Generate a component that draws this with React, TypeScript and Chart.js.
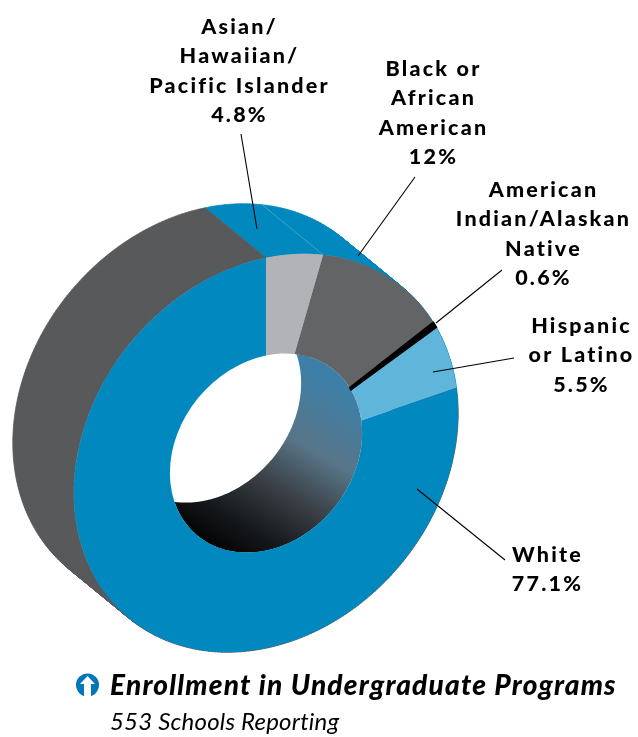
import React, { useEffect, useRef } from "react";
import { Chart, registerables } from "chart.js";

Chart.register(...registerables);

// Enrollment shares, clockwise from twelve o'clock.
const categories = [
  ["Asian/", "Hawaiian/", "Pacific Islander"],
  ["Black or", "African", "American"],
  ["American", "Indian/Alaskan", "Native"],
  ["Hispanic", "or Latino"],
  ["White"],
];
const shares = [4.8, 12, 0.6, 5.5, 77.1];
const faceColors = ["#b1b3b6", "#636466", "#000000", "#5fb6da", "#0088bf"];
const wallColors = ["#0088bf", "#0088bf", "#0088bf", "#0088bf", "#58595b"];
const sliceOutline = [0, 0, 1.6, 0, 0];
const titleText = "Enrollment in Undergraduate Programs";
const subtitleText = "553 Schools Reporting";

// Where each label block sits: centre x, first baseline.
const labelAnchors = [
  [239.5, 34],
  [433.5, 76],
  [543.5, 197],
  [581.5, 333],
  [547.5, 562],
];
// Leader lines from each label to its slice.
const leaders = [
  [241, 134, 257, 229],
  [415, 177, 358, 256],
  [502, 270, 436, 323],
  [514, 358, 433, 372],
  [505, 560, 417, 489],
];

const LINE_HEIGHT = 29.4;
const DEPTH_X = -61;
const DEPTH_Y = -50;
// Oblique view of the ring: horizontal squeeze, vertical shear and squeeze.
const VIEW_XX = 0.965;
const VIEW_YX = -0.2;
const VIEW_YY = 0.98;

const labelFont = "900 21.5px Lato";

function project(arc: any, radius: number, angle: number, dx = 0, dy = 0) {
  const u = radius * Math.cos(angle);
  const v = radius * Math.sin(angle);
  return [arc.x + VIEW_XX * u + dx, arc.y + VIEW_YX * u + VIEW_YY * v + dy];
}

function fillRing(ctx: CanvasRenderingContext2D, arc: any, radius: number, dx: number, dy: number) {
  ctx.beginPath();
  for (let i = 0; i < 360; i += 1) {
    const [x, y] = project(arc, radius, (i * Math.PI) / 180, dx, dy);
    if (i === 0) ctx.moveTo(x, y);
    else ctx.lineTo(x, y);
  }
  ctx.closePath();
  ctx.fill();
}

const extrudedRing = {
  id: "extrudedRing",
  beforeDatasetsDraw(chart: any) {
    const ctx: CanvasRenderingContext2D = chart.ctx;
    const arcs = chart.getDatasetMeta(0).data;
    const first = arcs[0];

    // Outer wall: one path per slice, every quad wound the same way, so the
    // nonzero fill gives a seamless union. The stroke keeps the tapering tip
    // of the wall visible where it meets the front face.
    arcs.forEach((arc: any, index: number) => {
      ctx.fillStyle = wallColors[index];
      ctx.strokeStyle = wallColors[index];
      ctx.lineWidth = 0.7;
      const stepCount = Math.max(2, Math.ceil((arc.endAngle - arc.startAngle) / (Math.PI / 180)));
      const step = (arc.endAngle - arc.startAngle) / stepCount;
      ctx.beginPath();
      for (let i = 0; i < stepCount; i += 1) {
        const a0 = arc.startAngle + i * step;
        const a1 = a0 + step;
        const quad = [
          project(arc, arc.outerRadius, a0),
          project(arc, arc.outerRadius, a1),
          project(arc, arc.outerRadius, a1, DEPTH_X, DEPTH_Y),
          project(arc, arc.outerRadius, a0, DEPTH_X, DEPTH_Y),
        ];
        let area = 0;
        quad.forEach((p, k) => {
          const q = quad[(k + 1) % 4];
          area += p[0] * q[1] - q[0] * p[1];
        });
        if (area < 0) quad.reverse();
        quad.forEach((p, k) => (k === 0 ? ctx.moveTo(p[0], p[1]) : ctx.lineTo(p[0], p[1])));
        ctx.closePath();
      }
      ctx.fill("nonzero");
      ctx.stroke();
    });

    // Hairline where two walls of the same colour meet.
    arcs.forEach((arc: any, index: number) => {
      if (index !== 0) return;
      const p = project(arc, arc.outerRadius, arc.endAngle);
      const q = project(arc, arc.outerRadius, arc.endAngle, DEPTH_X, DEPTH_Y);
      ctx.strokeStyle = "#5cb0d4";
      ctx.lineWidth = 0.6;
      ctx.beginPath();
      ctx.moveTo(p[0], p[1]);
      ctx.lineTo(q[0], q[1]);
      ctx.stroke();
    });

    // Inner wall seen through the hole, then the far opening.
    const shade = ctx.createLinearGradient(first.x - 60, first.y + 95, first.x + 50, first.y - 85);
    shade.addColorStop(0, "#000000");
    shade.addColorStop(0.18, "#14171a");
    shade.addColorStop(0.42, "#3a4046");
    shade.addColorStop(0.66, "#587588");
    shade.addColorStop(1, "#3c80aa");
    ctx.fillStyle = shade;
    fillRing(ctx, first, first.innerRadius, 0, 0);
    ctx.fillStyle = "#ffffff";
    fillRing(ctx, first, first.innerRadius, DEPTH_X, DEPTH_Y);

    // The library's own arcs are then drawn through the same oblique view.
    ctx.save();
    ctx.transform(
      VIEW_XX,
      VIEW_YX,
      0,
      VIEW_YY,
      first.x - VIEW_XX * first.x,
      first.y - VIEW_YX * first.x - VIEW_YY * first.y
    );
  },
  afterDatasetsDraw(chart: any) {
    const ctx: CanvasRenderingContext2D = chart.ctx;
    ctx.restore();

    ctx.strokeStyle = "#000000";
    ctx.lineWidth = 1.1;
    leaders.forEach(([x0, y0, x1, y1]) => {
      ctx.beginPath();
      ctx.moveTo(x0, y0);
      ctx.lineTo(x1, y1);
      ctx.stroke();
    });

    ctx.fillStyle = "#000000";
    ctx.textAlign = "center";
    ctx.textBaseline = "alphabetic";
    ctx.font = labelFont;
    (ctx as any).letterSpacing = "2.2px";
    categories.forEach((lines, index) => {
      const [cx, baseline] = labelAnchors[index];
      [...lines, `${shares[index]}%`].forEach((line, row) => {
        ctx.fillText(line, cx, baseline + row * LINE_HEIGHT);
      });
    });

    // Round marker with an upward arrow beside the title.
    ctx.fillStyle = "#0077b8";
    ctx.beginPath();
    ctx.arc(87.5, 685, 11.5, 0, Math.PI * 2);
    ctx.fill();
    ctx.fillStyle = "#ffffff";
    ctx.beginPath();
    ctx.moveTo(87.5, 676);
    ctx.lineTo(95, 684);
    ctx.lineTo(91, 684);
    ctx.lineTo(91, 697);
    ctx.lineTo(84, 697);
    ctx.lineTo(84, 684);
    ctx.lineTo(80, 684);
    ctx.closePath();
    ctx.fill();

    ctx.fillStyle = "#000000";
    ctx.textAlign = "left";
    ctx.font = "italic 900 28px Lato";
    (ctx as any).letterSpacing = "1.2px";
    ctx.fillText(titleText, 110, 695);
    ctx.font = "italic 400 24px Lato";
    (ctx as any).letterSpacing = "0.2px";
    ctx.fillText(subtitleText, 110, 730);
    (ctx as any).letterSpacing = "0px";
  },
};

export default function App() {
  const canvasRef = useRef<HTMLCanvasElement | null>(null);

  useEffect(() => {
    const chart = new Chart(canvasRef.current as HTMLCanvasElement, {
      type: "doughnut",
      data: {
        labels: categories.map((lines) => lines.join(" ")),
        datasets: [
          {
            data: shares,
            backgroundColor: faceColors,
            borderColor: faceColors,
            borderWidth: sliceOutline,
            clip: false,
          } as any,
        ],
      },
      options: {
        animation: false,
        responsive: false,
        cutout: "50%",
        layout: { padding: { left: 66, top: 253, right: 172, bottom: 84 } },
        plugins: { legend: { display: false }, tooltip: { enabled: false } },
      },
      plugins: [extrudedRing],
    });
    return () => chart.destroy();
  }, []);

  return (
    <div style={{ position: "absolute", left: 0, top: 0, width: 638, height: 737, background: "#fff" }}>
      <canvas ref={canvasRef} width={638} height={737} style={{ display: "block" }} />
    </div>
  );
}
